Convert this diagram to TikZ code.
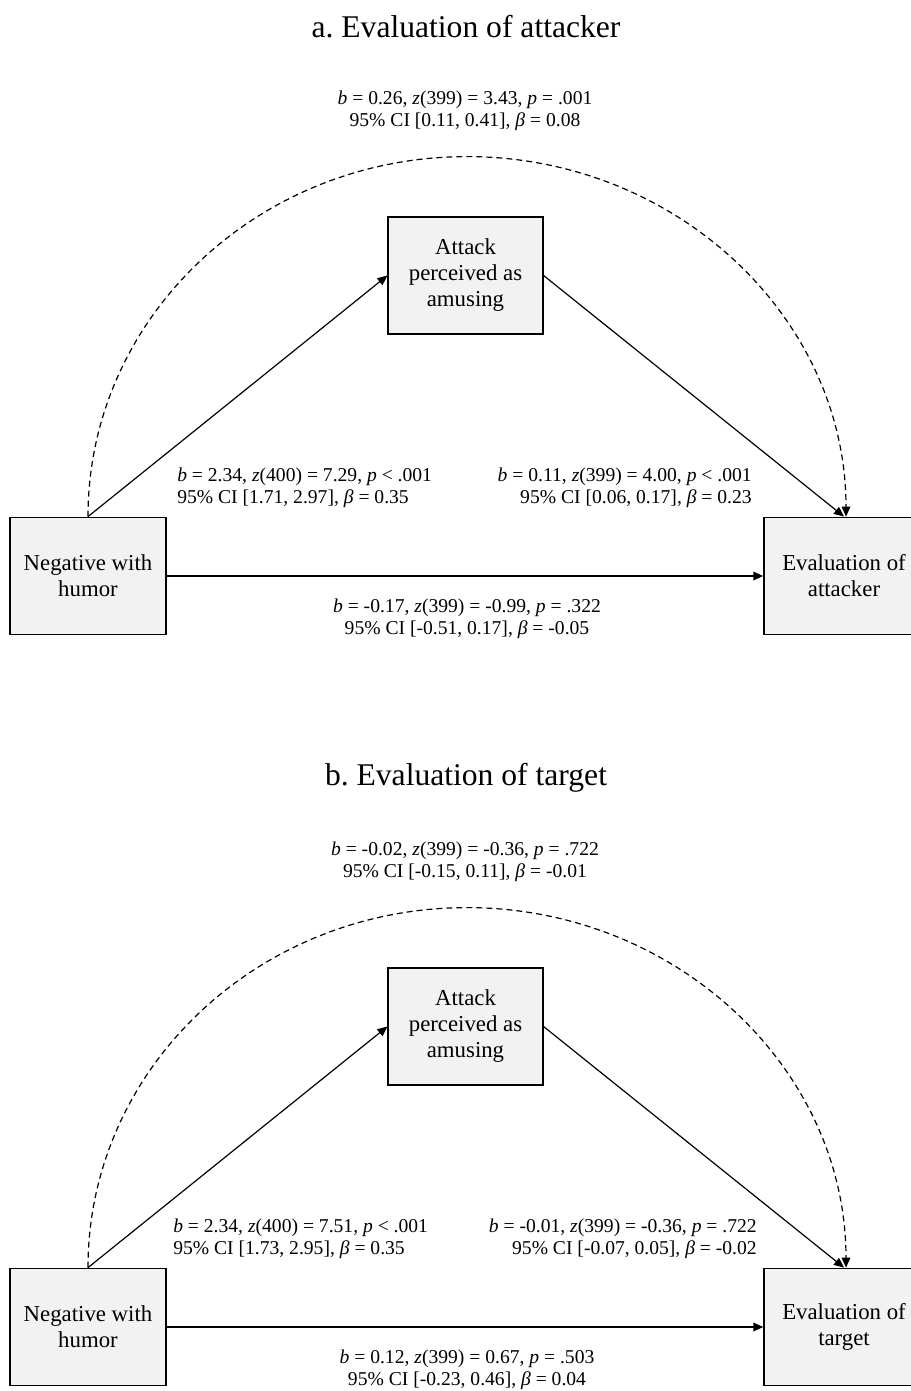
\documentclass[tikz,border=0pt]{standalone}
\usepackage{fontspec}
\setmainfont{Liberation Serif}
\usetikzlibrary{arrows.meta}
\definecolor{boxgray}{HTML}{F2F2F2}
\frenchspacing

\begin{document}
\begin{tikzpicture}[
  x=0.75pt, y=0.75pt,
  box/.style={rectangle, draw=black, line width=1.1pt, fill=boxgray, align=center, minimum width=117pt, minimum height=88pt, inner sep=0pt, font=\fontsize{17.1}{19.5}\selectfont},
  stat/.style={inner sep=0pt, font=\fontsize{14.7}{16.5}\selectfont},
  paneltitle/.style={inner sep=0pt, font=\fontsize{23.7}{28}\selectfont},
  arrow/.style={-{Triangle[length=7.5pt,width=6.5pt]}, line width=0.9pt},
  dasharrow/.style={arrow, dash pattern=on 4.5pt off 3pt}
]
\useasboundingbox (0,0) rectangle (910,-1391);

% panel a
\node[paneltitle] (titleA) at (466,-27) {a. Evaluation of attacker};
\node[box] (negA) at (88,-576) {Negative with\\humor};
\node[box, minimum width=116pt] (attA) at (465.5,-275.5) {Attack\\perceived as\\amusing};
\node[box, minimum width=120pt] (evalA) at (844,-576) {Evaluation of\\attacker};

\node[stat, align=center] (topA) at (465,-111) {\textit{b} = 0.26, \textit{z}(399) = 3.43, \textit{p} = .001\\95\% CI [0.11, 0.41], \textit{β} = 0.08};
\node[stat, align=left, anchor=west] (leftA) at (177,-488) {\textit{b} = 2.34, \textit{z}(400) = 7.29, \textit{p} < .001\\95\% CI [1.71, 2.97], \textit{β} = 0.35};
\node[stat, align=right, anchor=east] (rightA) at (752,-488) {\textit{b} = 0.11, \textit{z}(399) = 4.00, \textit{p} < .001\\95\% CI [0.06, 0.17], \textit{β} = 0.23};
\node[stat, align=center] (botA) at (467,-619) {\textit{b} = -0.17, \textit{z}(399) = -0.99, \textit{p} = .322\\95\% CI [-0.51, 0.17], \textit{β} = -0.05};

\draw[arrow] (negA.north) -- (attA.west);
\draw[arrow] (attA.east) -- (evalA.north);
\draw[arrow] (negA.east) -- (evalA.west);
\draw[dasharrow] (negA.north) arc[start angle=180, end angle=0, x radius=284.25pt, y radius=270pt];

% panel b
\node[paneltitle] (titleB) at (466,-778) {b. Evaluation of target};
\node[box] (negB) at (88,-1327) {Negative with\\humor};
\node[box, minimum width=116pt] (attB) at (465.5,-1026.5) {Attack\\perceived as\\amusing};
\node[box, minimum width=120pt] (evalB) at (844,-1327) {Evaluation of\\target};

\node[stat, align=center] (topB) at (465,-862) {\textit{b} = -0.02, \textit{z}(399) = -0.36, \textit{p} = .722\\95\% CI [-0.15, 0.11], \textit{β} = -0.01};
\node[stat, align=left, anchor=west] (leftB) at (173,-1239) {\textit{b} = 2.34, \textit{z}(400) = 7.51, \textit{p} < .001\\95\% CI [1.73, 2.95], \textit{β} = 0.35};
\node[stat, align=right, anchor=east] (rightB) at (757,-1239) {\textit{b} = -0.01, \textit{z}(399) = -0.36, \textit{p} = .722\\95\% CI [-0.07, 0.05], \textit{β} = -0.02};
\node[stat, align=center] (botB) at (467,-1370) {\textit{b} = 0.12, \textit{z}(399) = 0.67, \textit{p} = .503\\95\% CI [-0.23, 0.46], \textit{β} = 0.04};

\draw[arrow] (negB.north) -- (attB.west);
\draw[arrow] (attB.east) -- (evalB.north);
\draw[arrow] (negB.east) -- (evalB.west);
\draw[dasharrow] (negB.north) arc[start angle=180, end angle=0, x radius=284.25pt, y radius=270pt];
\end{tikzpicture}
\end{document}
